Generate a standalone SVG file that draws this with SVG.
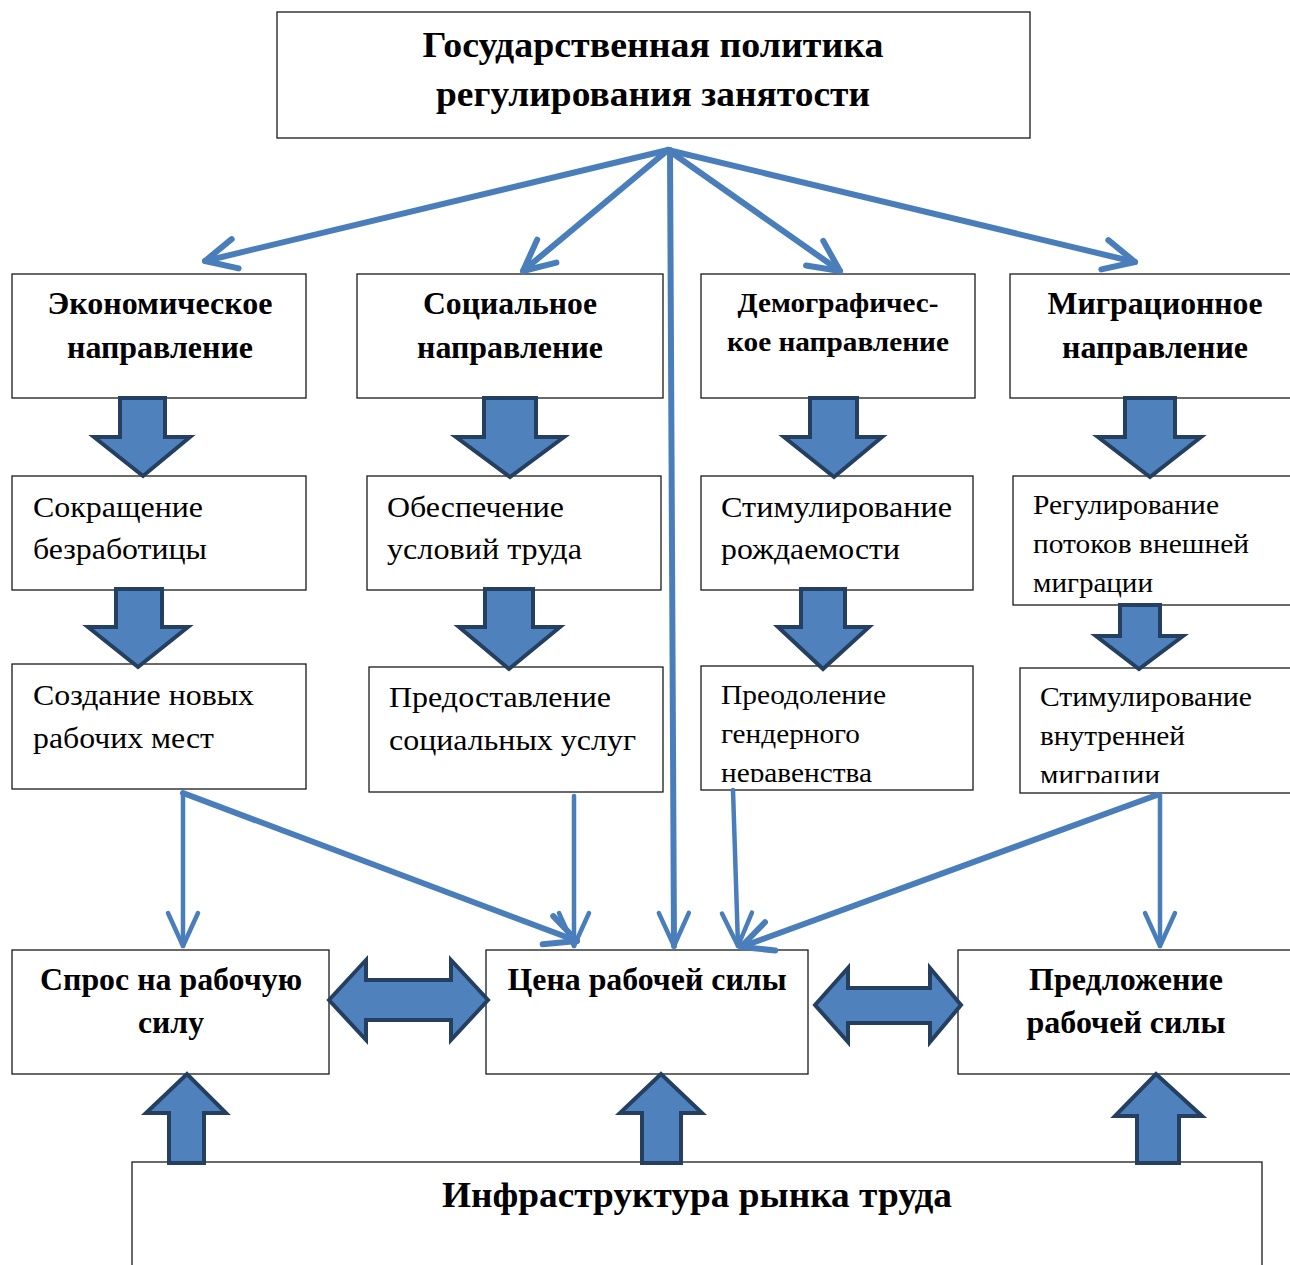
<svg xmlns="http://www.w3.org/2000/svg" width="1290" height="1265" viewBox="0 0 1290 1265">
<style>
.box{fill:#fff;stroke:#1a1a1a;stroke-width:1.3}
.tb{font-family:"Liberation Serif","Times New Roman",serif;font-weight:bold;fill:#000;text-anchor:middle}
.tr{font-family:"Liberation Serif","Times New Roman",serif;fill:#000}
.con{stroke:#4a7ebb;fill:none;stroke-linecap:round}
.thick{stroke-width:6}
.thin{stroke-width:4.5}
.blk{fill:#4f81bd;stroke:#243f60;stroke-width:4;stroke-linejoin:miter}
</style>
<defs>
<marker id="ahT" markerUnits="userSpaceOnUse" viewBox="-40 -25 50 50" markerWidth="50" markerHeight="50" refX="0" refY="0" orient="auto">
<path d="M-31,-15 L0,0 L-31,15" fill="none" stroke="#4a7ebb" stroke-width="6" stroke-linecap="round" stroke-linejoin="round"/>
</marker>
<marker id="ahS" markerUnits="userSpaceOnUse" viewBox="-40 -25 50 50" markerWidth="50" markerHeight="50" refX="0" refY="0" orient="auto">
<path d="M-33,-15 L0,0 L-33,15" fill="none" stroke="#4a7ebb" stroke-width="4.5" stroke-linecap="round" stroke-linejoin="round"/>
</marker>
<clipPath id="c1"><rect x="701" y="666" width="272" height="116"/></clipPath>
<clipPath id="c2"><rect x="1020" y="668" width="272" height="115"/></clipPath>
</defs>

<g id="top">
<rect class="box" x="277" y="12" width="753" height="126"/>
<text class="tb" x="653" y="57" font-size="36" textLength="461" lengthAdjust="spacingAndGlyphs">Государственная политика</text>
<text class="tb" x="653" y="106" font-size="36" textLength="434" lengthAdjust="spacingAndGlyphs">регулирования занятости</text>
</g>

<g id="econ">
<rect class="box" x="12" y="274" width="294" height="124"/>
<text class="tb" x="160" y="314" font-size="31" textLength="225" lengthAdjust="spacingAndGlyphs">Экономическое</text>
<text class="tb" x="160" y="358" font-size="31" textLength="186" lengthAdjust="spacingAndGlyphs">направление</text>
</g>
<g id="social">
<rect class="box" x="357" y="274" width="306" height="124"/>
<text class="tb" x="510" y="314" font-size="31" textLength="174" lengthAdjust="spacingAndGlyphs">Социальное</text>
<text class="tb" x="510" y="358" font-size="31" textLength="186" lengthAdjust="spacingAndGlyphs">направление</text>
</g>
<g id="demog">
<rect class="box" x="701" y="274" width="274" height="124"/>
<text class="tb" x="838" y="312" font-size="28" textLength="201" lengthAdjust="spacingAndGlyphs">Демографичес-</text>
<text class="tb" x="838" y="351" font-size="28" textLength="222" lengthAdjust="spacingAndGlyphs">кое направление</text>
</g>
<g id="migr">
<rect class="box" x="1010" y="274" width="290" height="124"/>
<text class="tb" x="1155" y="314" font-size="31" textLength="215" lengthAdjust="spacingAndGlyphs">Миграционное</text>
<text class="tb" x="1155" y="358" font-size="31" textLength="186" lengthAdjust="spacingAndGlyphs">направление</text>
</g>

<g id="reduce">
<rect class="box" x="12" y="476" width="294" height="114"/>
<text class="tr" x="33" y="517" font-size="30" textLength="170" lengthAdjust="spacingAndGlyphs">Сокращение</text>
<text class="tr" x="33" y="559" font-size="30" textLength="174" lengthAdjust="spacingAndGlyphs">безработицы</text>
</g>
<g id="conditions">
<rect class="box" x="367" y="476" width="294" height="114"/>
<text class="tr" x="387" y="517" font-size="30" textLength="177" lengthAdjust="spacingAndGlyphs">Обеспечение</text>
<text class="tr" x="387" y="559" font-size="30" textLength="195" lengthAdjust="spacingAndGlyphs">условий труда</text>
</g>
<g id="birth">
<rect class="box" x="701" y="476" width="272" height="114"/>
<text class="tr" x="721" y="517" font-size="30" textLength="231" lengthAdjust="spacingAndGlyphs">Стимулирование</text>
<text class="tr" x="721" y="559" font-size="30" textLength="179" lengthAdjust="spacingAndGlyphs">рождаемости</text>
</g>
<g id="external">
<rect class="box" x="1013" y="476" width="290" height="129"/>
<text class="tr" x="1033" y="514" font-size="27" textLength="186" lengthAdjust="spacingAndGlyphs">Регулирование</text>
<text class="tr" x="1033" y="553" font-size="27" textLength="216" lengthAdjust="spacingAndGlyphs">потоков внешней</text>
<text class="tr" x="1033" y="592" font-size="27" textLength="120" lengthAdjust="spacingAndGlyphs">миграции</text>
</g>

<g id="jobs">
<rect class="box" x="12" y="664" width="294" height="125"/>
<text class="tr" x="33" y="705" font-size="30" textLength="221" lengthAdjust="spacingAndGlyphs">Создание новых</text>
<text class="tr" x="33" y="748" font-size="30" textLength="181" lengthAdjust="spacingAndGlyphs">рабочих мест</text>
</g>
<g id="services">
<rect class="box" x="369" y="667" width="294" height="125"/>
<text class="tr" x="389" y="707" font-size="30" textLength="222" lengthAdjust="spacingAndGlyphs">Предоставление</text>
<text class="tr" x="389" y="750" font-size="30" textLength="247" lengthAdjust="spacingAndGlyphs">социальных услуг</text>
</g>
<g id="gender">
<rect class="box" x="701" y="666" width="272" height="124"/>
<g clip-path="url(#c1)">
<text class="tr" x="721" y="704" font-size="27" textLength="165" lengthAdjust="spacingAndGlyphs">Преодоление</text>
<text class="tr" x="721" y="743" font-size="27" textLength="139" lengthAdjust="spacingAndGlyphs">гендерного</text>
<text class="tr" x="721" y="782" font-size="27" textLength="151" lengthAdjust="spacingAndGlyphs">неравенства</text>
</g>
</g>
<g id="internal">
<rect class="box" x="1020" y="668" width="280" height="125"/>
<g clip-path="url(#c2)">
<text class="tr" x="1040" y="706" font-size="27" textLength="212" lengthAdjust="spacingAndGlyphs">Стимулирование</text>
<text class="tr" x="1040" y="745" font-size="27" textLength="145" lengthAdjust="spacingAndGlyphs">внутренней</text>
<text class="tr" x="1040" y="784" font-size="27" textLength="120" lengthAdjust="spacingAndGlyphs">миграции</text>
</g>
</g>

<g id="demand">
<rect class="box" x="12" y="950" width="317" height="124"/>
<text class="tb" x="171" y="990" font-size="31" textLength="262" lengthAdjust="spacingAndGlyphs">Спрос на рабочую</text>
<text class="tb" x="171" y="1033" font-size="31" textLength="66" lengthAdjust="spacingAndGlyphs">силу</text>
</g>
<g id="price">
<rect class="box" x="486" y="950" width="322" height="124"/>
<text class="tb" x="647" y="990" font-size="31" textLength="279" lengthAdjust="spacingAndGlyphs">Цена рабочей силы</text>
</g>
<g id="supply">
<rect class="box" x="958" y="950" width="340" height="124"/>
<text class="tb" x="1126" y="990" font-size="31" textLength="194" lengthAdjust="spacingAndGlyphs">Предложение</text>
<text class="tb" x="1126" y="1033" font-size="31" textLength="199" lengthAdjust="spacingAndGlyphs">рабочей силы</text>
</g>

<g id="infra">
<rect class="box" x="132" y="1162" width="1130" height="120"/>
<text class="tb" x="697" y="1207" font-size="36" textLength="510" lengthAdjust="spacingAndGlyphs">Инфраструктура рынка труда</text>
</g>

<g id="connectors">
<line class="con thick" x1="668" y1="150" x2="205" y2="261" marker-end="url(#ahT)"/>
<line class="con thick" x1="668" y1="150" x2="523" y2="271" marker-end="url(#ahT)"/>
<line class="con thick" x1="668" y1="150" x2="840" y2="271" marker-end="url(#ahT)"/>
<line class="con thick" x1="668" y1="150" x2="1135" y2="262" marker-end="url(#ahT)"/>
<line class="con thick" x1="670" y1="150" x2="674" y2="946" marker-end="url(#ahS)"/>

<line class="con thin" x1="183" y1="793" x2="183" y2="946" marker-end="url(#ahS)"/>
<line class="con thick" x1="183" y1="793" x2="577" y2="941" marker-end="url(#ahT)"/>
<line class="con thin" x1="574" y1="796" x2="574" y2="946" marker-end="url(#ahS)"/>
<line class="con thin" x1="733" y1="790" x2="738" y2="946" marker-end="url(#ahS)"/>
<line class="con thick" x1="1157" y1="795" x2="741" y2="947" marker-end="url(#ahT)"/>
<line class="con thin" x1="1160" y1="795" x2="1160" y2="946" marker-end="url(#ahS)"/>

<polygon class="blk" points="120,398 165,398 165,437 190,437 143,476 94,437 120,437"/>
<polygon class="blk" points="116,589 162,589 162,627 188,627 138,667 88,627 116,627"/>
<polygon class="blk" points="484,398 536,398 536,437 564,437 510,477 456,437 484,437"/>
<polygon class="blk" points="485,589 533,589 533,627 560,627 509,669 459,627 485,627"/>
<polygon class="blk" points="810,398 857,398 857,437 882,437 834,477 784,437 810,437"/>
<polygon class="blk" points="801,589 845,589 845,627 869,627 823,669 778,627 801,627"/>
<polygon class="blk" points="1125,398 1175,398 1175,437 1201,437 1150,477 1098,437 1125,437"/>
<polygon class="blk" points="1120,605 1160,605 1160,636 1183,636 1139,669 1096,636 1120,636"/>

<polygon class="blk" points="329,1000 366,960 366,980 451,980 451,960 488,1000 451,1040 451,1020 366,1020 366,1040"/>
<polygon class="blk" points="815,1005 848,968 848,988 930,988 930,968 961,1005 930,1042 930,1023 848,1023 848,1042"/>

<polygon class="blk" points="169,1163 169,1113 146,1113 187,1074 226,1113 204,1113 204,1163"/>
<polygon class="blk" points="642,1163 642,1113 620,1113 661,1074 702,1113 681,1113 681,1163"/>
<polygon class="blk" points="1137,1163 1137,1116 1115,1116 1156,1074 1202,1116 1179,1116 1179,1163"/>
</g>
</svg>
